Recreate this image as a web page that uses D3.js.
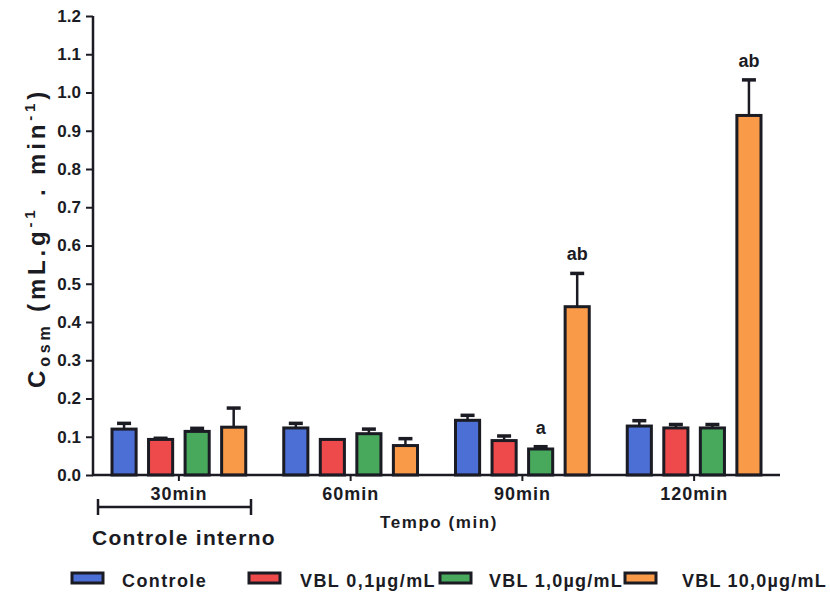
<!DOCTYPE html>
<html>
<head>
<meta charset="utf-8">
<script src="https://cdn.jsdelivr.net/npm/d3@7"></script>
<style>
  html, body { margin: 0; padding: 0; background: #fff; }
  svg { display: block; font-family: "Liberation Sans", Arial, Helvetica, sans-serif; }
</style>
</head>
<body>
<svg id="chart" width="830" height="593"></svg>
<script>
// Time points (x groups) and treatment series
const groups = ["30min", "60min", "90min", "120min"];
const series = ["Controle", "VBL 0,1µg/mL", "VBL 1,0µg/mL", "VBL 10,0µg/mL"];
const colors = ["#4c6fd6", "#ee4a4c", "#48a85c", "#f99a48"];

// Mean Cosm per series, one value per time point
const controle = [0.120, 0.123, 0.143, 0.128];
const vbl01    = [0.093, 0.093, 0.090, 0.123];
const vbl10    = [0.114, 0.108, 0.068, 0.123];
const vbl100   = [0.125, 0.077, 0.440, 0.940];

// Standard error per series
const errControle = [0.015, 0.012, 0.013, 0.014];
const errVbl01    = [0.003, 0.000, 0.012, 0.009];
const errVbl10    = [0.008, 0.012, 0.006, 0.009];
const errVbl100   = [0.050, 0.018, 0.087, 0.093];

// Significance letters per series
const sigVbl10  = ["", "", "a", ""];
const sigVbl100 = ["", "", "ab", "ab"];

const yTicks = [0, 0.1, 0.2, 0.3, 0.4, 0.5, 0.6, 0.7, 0.8, 0.9, 1.0, 1.1, 1.2];

const means = [controle, vbl01, vbl10, vbl100];
const errs = [errControle, errVbl01, errVbl10, errVbl100];
const sigs = [["", "", "", ""], ["", "", "", ""], sigVbl10, sigVbl100];

const rows = [];
groups.forEach((g, gi) => {
  series.forEach((s, si) => {
    rows.push({ group: g, series: s, si, mean: means[si][gi], err: errs[si][gi], sig: sigs[si][gi] });
  });
});

const svg = d3.select("#chart");
const axisX0 = 93, axisX1 = 780, axisY0 = 475, axisY1 = 16;

const x0 = d3.scaleBand().domain(groups).range([axisX0, axisX1]).paddingInner(0).paddingOuter(0);
const x1 = d3.scaleBand().domain(series).range([0, x0.bandwidth()]).paddingInner(0.34).paddingOuter(0.52);
const y = d3.scaleLinear().domain([0, 1.2]).range([axisY0, axisY1]);
const color = d3.scaleOrdinal().domain(series).range(colors);

const ink = "#1b1b24";

// Spread a text's letters so that it spans the given width
function spread(sel, width) {
  sel.each(function () {
    const t = d3.select(this).attr("letter-spacing", 0);
    const len = this.getComputedTextLength();
    const n = Math.max(1, this.textContent.length);
    t.attr("letter-spacing", Math.max(0, (width - len) / n).toFixed(2));
  });
}

// Bars
const bars = svg.append("g");
bars.selectAll("rect").data(rows).join("rect")
  .attr("x", d => x0(d.group) + x1(d.series))
  .attr("y", d => y(d.mean))
  .attr("width", x1.bandwidth())
  .attr("height", d => y(0) - y(d.mean))
  .attr("fill", d => color(d.series))
  .attr("stroke", ink)
  .attr("stroke-width", 3);

// Error bars (upper only)
const eb = svg.append("g").attr("stroke", ink);
const withErr = rows.filter(d => d.err > 0);
eb.selectAll("line.v").data(withErr).join("line").attr("class", "v")
  .attr("x1", d => x0(d.group) + x1(d.series) + x1.bandwidth() / 2)
  .attr("x2", d => x0(d.group) + x1(d.series) + x1.bandwidth() / 2)
  .attr("y1", d => y(d.mean))
  .attr("y2", d => y(d.mean + d.err))
  .attr("stroke-width", 2.5);
eb.selectAll("line.c").data(withErr).join("line").attr("class", "c")
  .attr("x1", d => x0(d.group) + x1(d.series) + x1.bandwidth() / 2 - 7)
  .attr("x2", d => x0(d.group) + x1(d.series) + x1.bandwidth() / 2 + 7)
  .attr("y1", d => y(d.mean + d.err))
  .attr("y2", d => y(d.mean + d.err))
  .attr("stroke-width", 3.5);

// Significance letters
svg.append("g").selectAll("text").data(rows.filter(d => d.sig)).join("text")
  .attr("x", d => x0(d.group) + x1(d.series) + x1.bandwidth() / 2)
  .attr("y", d => y(d.mean + d.err) - 13)
  .attr("text-anchor", "middle")
  .attr("font-size", 18).attr("font-weight", "bold").attr("fill", ink)
  .text(d => d.sig);

// Y axis
const yAxis = d3.axisLeft(y).tickValues(yTicks).tickFormat(d3.format(".1f")).tickSizeOuter(0).tickSize(7).tickPadding(5);
const gy = svg.append("g").attr("transform", `translate(${axisX0},0)`).call(yAxis);
gy.select(".domain").attr("stroke", ink).attr("stroke-width", 2.5).attr("d", `M0,${axisY0}V${axisY1}`);
gy.selectAll(".tick line").attr("stroke", ink).attr("stroke-width", 2);
gy.selectAll(".tick text").attr("font-size", 17).attr("font-weight", "bold").attr("fill", ink)
  .attr("font-family", "Liberation Sans, Arial, sans-serif");

// X axis
const xAxis = d3.axisBottom(x0).tickSize(6).tickSizeOuter(0).tickPadding(6);
const gx = svg.append("g").attr("transform", `translate(0,${axisY0})`).call(xAxis);
gx.select(".domain").attr("stroke", ink).attr("stroke-width", 2.5).attr("d", `M${axisX0 - 1},0H${axisX1}`);
gx.selectAll(".tick line").attr("stroke", ink).attr("stroke-width", 2);
gx.selectAll(".tick text").attr("font-size", 18).attr("font-weight", "bold").attr("fill", ink)
  .attr("font-family", "Liberation Sans, Arial, sans-serif")
  .each(function () {
    const w = this.textContent.length === 5 ? 57 : 68;
    d3.select(this).call(spread, w);
  });

// Internal control bracket under the first time point
const br = svg.append("g").attr("stroke", ink);
const bx0 = 98, bx1 = 251, by = 507;
br.append("line").attr("x1", bx0).attr("x2", bx1).attr("y1", by).attr("y2", by).attr("stroke-width", 2.5);
br.append("line").attr("x1", bx0).attr("x2", bx0).attr("y1", by - 8).attr("y2", by + 8).attr("stroke-width", 2.5);
br.append("line").attr("x1", bx1).attr("x2", bx1).attr("y1", by - 8).attr("y2", by + 8).attr("stroke-width", 2.5);

svg.append("text").attr("x", 92).attr("y", 545)
  .attr("font-size", 21).attr("font-weight", "bold").attr("fill", ink)
  .text("Controle interno").call(spread, 184);

// X axis title
svg.append("text").attr("x", 380).attr("y", 528)
  .attr("font-size", 17).attr("font-weight", "bold").attr("fill", ink)
  .text("Tempo (min)").call(spread, 118);

// Y axis title with sub/superscripts
const yt = svg.append("text")
  .attr("transform", `translate(45,238) rotate(-90)`)
  .attr("text-anchor", "middle").attr("font-size", 24).attr("font-weight", "bold").attr("fill", ink);
yt.append("tspan").text("C");
yt.append("tspan").attr("font-size", 16).attr("dy", 5).text("osm");
yt.append("tspan").attr("dy", -5).text(" (mL.g");
yt.append("tspan").attr("font-size", 15).attr("dy", -10).text("-1");
yt.append("tspan").attr("dy", 10).text(" . min");
yt.append("tspan").attr("font-size", 15).attr("dy", -10).text("-1");
yt.append("tspan").attr("dy", 10).text(")");
{
  const len = yt.node().getComputedTextLength();
  const n = yt.text().length;
  yt.attr("letter-spacing", Math.max(0, (300 - len) / n).toFixed(2));
}

// Legend
const legendX = [72, 249, 440, 625];
const legendTextX = [122, 300, 489, 682];
const legendTextW = [85, 136, 134, 145];
const leg = svg.append("g");
const li = leg.selectAll("g").data(series).join("g")
  .attr("transform", (d, i) => `translate(${legendX[i]},573)`);
li.append("rect").attr("width", 31).attr("height", 10)
  .attr("fill", d => color(d)).attr("stroke", ink).attr("stroke-width", 3);
li.append("text").attr("x", (d, i) => legendTextX[i] - legendX[i])
  .attr("y", 14).attr("font-size", 18).attr("font-weight", "bold").attr("fill", ink)
  .text(d => d)
  .each(function (d, i) { d3.select(this).call(spread, legendTextW[i]); });
</script>
</body>
</html>
